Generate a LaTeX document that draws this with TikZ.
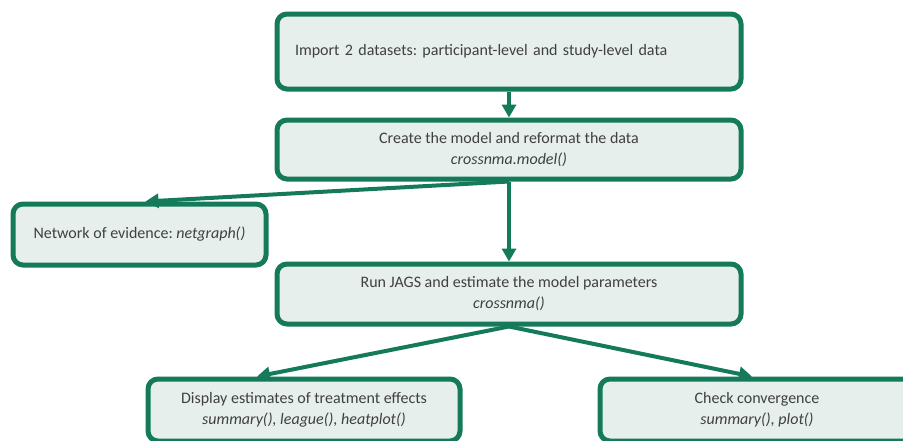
\documentclass[tikz,border=0pt]{standalone}
\usepackage{fontspec}
\setmainfont{Carlito}
\frenchspacing
\usetikzlibrary{arrows.meta}
\definecolor{boxgreen}{RGB}{20,122,90}
\definecolor{boxfill}{RGB}{230,239,235}
\definecolor{boxtext}{RGB}{64,64,64}

\begin{document}
\begin{tikzpicture}[x=1pt, y=-1pt,
  stepbox/.style={draw=boxgreen, line width=5pt, fill=boxfill, rounded corners=10pt,
    align=center, text=boxtext, inner sep=0pt, font=\fontsize{16}{21}\selectfont},
  flow/.style={draw=boxgreen, line width=4pt, -{Triangle[length=13pt,width=14pt]}}
]
\useasboundingbox (0,0) rectangle (903,440);
\clip (0,0) rectangle (903,440);
% steps
\node[stepbox, minimum width=464pt, minimum height=75pt, text width=428pt, align=left]
  (import) at (509,51.5) {Import 2 datasets: participant-level and study-level data};
\node[stepbox, minimum width=464pt, minimum height=59pt] (model) at (509,149.5)
  {Create the model and reformat the data\\ \textit{crossnma.model()}};
\node[stepbox, minimum width=253pt, minimum height=61pt] (network) at (139.5,234.5)
  {Network of evidence: \textit{netgraph()}};
\node[stepbox, minimum width=464pt, minimum height=60pt] (jags) at (509,294)
  {Run JAGS and estimate the model parameters\\ \textit{crossnma()}};
\node[stepbox, minimum width=312pt, minimum height=62pt] (display) at (304,410)
  {Display estimates of treatment effects\\ \textit{summary(), league(), heatplot()}};
\node[stepbox, minimum width=314pt, minimum height=62pt] (check) at (757,410)
  {Check convergence\\ \textit{summary(), plot()}};
% arrows
\draw[flow] (import.south) -- (model.north);
\draw[flow] (model.south) -- ([xshift=6pt]network.north);
\draw[flow] (model.south) -- (jags.north);
\draw[flow] (jags.south) -- ([xshift=-47pt]display.north);
\draw[flow] (jags.south) -- ([xshift=-5pt]check.north);
\end{tikzpicture}
\end{document}
